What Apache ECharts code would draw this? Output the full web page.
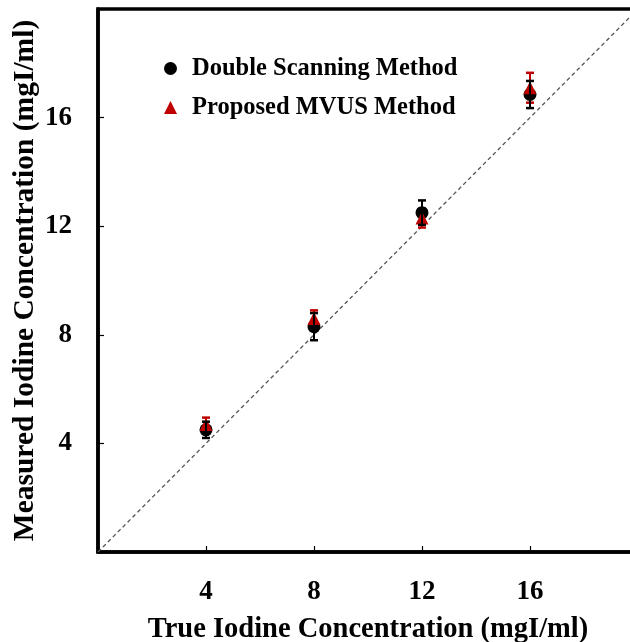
<!DOCTYPE html>
<html>
<head>
<meta charset="utf-8">
<script src="https://cdn.jsdelivr.net/npm/echarts@6/dist/echarts.min.js"></script>
<style>
  html, body { margin: 0; padding: 0; background: #fff; }
  #chart { width: 630px; height: 642px; }
</style>
</head>
<body>
<div id="chart"></div>
<script>
// True iodine concentrations (mgI/ml)
const trueConc = [4, 8, 12, 16];
// Double scanning method: mean and standard deviation
const dsMean = [4.5, 8.3, 12.5, 16.85];
const dsErr = [0.3, 0.5, 0.45, 0.5];
// Proposed MVUS method: mean and standard deviation
const mvusMean = [4.7, 8.6, 12.3, 17.1];
const mvusErr = [0.25, 0.3, 0.35, 0.55];
// Identity line endpoints
const identity = [[0, 0], [20, 20]];
const tickValues = [4, 8, 12, 16];

const FONT = '"Liberation Serif", "Times New Roman", serif';
const RED = '#c00000';

function errData(means, errs) {
  return trueConc.map((x, i) => [x, means[i] - errs[i], means[i] + errs[i]]);
}

function errRender(color) {
  return function (params, api) {
    const x = api.value(0);
    const lo = api.coord([x, api.value(1)]);
    const hi = api.coord([x, api.value(2)]);
    const cap = 4;
    const style = { stroke: color, lineWidth: 2 };
    return {
      type: 'group',
      children: [
        { type: 'line', shape: { x1: lo[0], y1: lo[1], x2: hi[0], y2: hi[1] }, style },
        { type: 'line', shape: { x1: lo[0] - cap, y1: lo[1], x2: lo[0] + cap, y2: lo[1] }, style: { stroke: color, lineWidth: 2.5 } },
        { type: 'line', shape: { x1: hi[0] - cap, y1: hi[1], x2: hi[0] + cap, y2: hi[1] }, style: { stroke: color, lineWidth: 2.5 } }
      ]
    };
  };
}

const tickFmt = v => (tickValues.indexOf(v) >= 0 ? String(v) : '');

const chart = echarts.init(document.getElementById('chart'), null, { renderer: 'canvas' });
chart.setOption({
  animation: false,
  backgroundColor: '#fff',
  grid: {
    left: 98, top: 9, width: 540, height: 543,
    containLabel: false, outerBoundsMode: 'none',
    show: true, borderColor: '#000', borderWidth: 3.5, backgroundColor: 'transparent'
  },
  legend: {
    orient: 'vertical',
    left: 159, top: 51,
    itemWidth: 13, itemHeight: 13, itemGap: 14,
    textStyle: { fontFamily: FONT, fontWeight: 'bold', fontSize: 24.5, color: '#000', padding: [0, 0, 0, 10] },
    data: [
      { name: 'Double Scanning Method', icon: 'circle', itemStyle: { color: '#000', opacity: 1 } },
      { name: 'Proposed MVUS Method', icon: 'triangle', itemStyle: { color: RED, opacity: 1 } }
    ]
  },
  xAxis: {
    type: 'value', min: 0, max: 20, interval: 4,
    name: 'True Iodine Concentration (mgI/ml)',
    nameLocation: 'middle', nameGap: 63, nameMoveOverlap: false,
    nameTextStyle: { fontFamily: FONT, fontWeight: 'bold', fontSize: 28.5, color: '#000' },
    axisLine: { show: true, lineStyle: { color: '#000', width: 3.5 } },
    axisTick: { show: true, inside: true, length: 6, lineStyle: { color: '#000', width: 1.2 } },
    axisLabel: { formatter: tickFmt, margin: 27, fontFamily: FONT, fontWeight: 'bold', fontSize: 27, color: '#000' },
    splitLine: { show: false }
  },
  yAxis: {
    type: 'value', min: 0, max: 20, interval: 4,
    name: 'Measured Iodine Concentration (mgI/ml)',
    nameLocation: 'middle', nameGap: 58, nameMoveOverlap: false,
    nameTextStyle: { fontFamily: FONT, fontWeight: 'bold', fontSize: 29.5, color: '#000' },
    axisLine: { show: true, lineStyle: { color: '#000', width: 3.5 } },
    axisTick: { show: true, inside: true, length: 6, lineStyle: { color: '#000', width: 1.2 } },
    axisLabel: { formatter: tickFmt, margin: 26, fontFamily: FONT, fontWeight: 'bold', fontSize: 27, color: '#000' },
    splitLine: { show: false }
  },
  series: [
    {
      type: 'line', data: identity, symbol: 'none', silent: true,
      lineStyle: { color: '#555', width: 1.3, type: [4, 3] }, z: 1
    },
    {
      type: 'custom', name: 'mvusErr', renderItem: errRender(RED),
      data: errData(mvusMean, mvusErr), encode: { x: 0, y: [1, 2] }, z: 2
    },
    {
      type: 'scatter', name: 'Double Scanning Method', symbol: 'circle', symbolSize: 13,
      itemStyle: { color: '#000', opacity: 1 }, data: trueConc.map((x, i) => [x, dsMean[i]]), z: 3
    },
    {
      type: 'scatter', name: 'Proposed MVUS Method', symbol: 'triangle', symbolSize: 13,
      itemStyle: { color: RED, opacity: 1 }, data: trueConc.map((x, i) => [x, mvusMean[i]]), z: 4
    },
    {
      type: 'custom', name: 'dsErr', renderItem: errRender('#000'),
      data: errData(dsMean, dsErr), encode: { x: 0, y: [1, 2] }, z: 5
    }
  ]
});
</script>
</body>
</html>
